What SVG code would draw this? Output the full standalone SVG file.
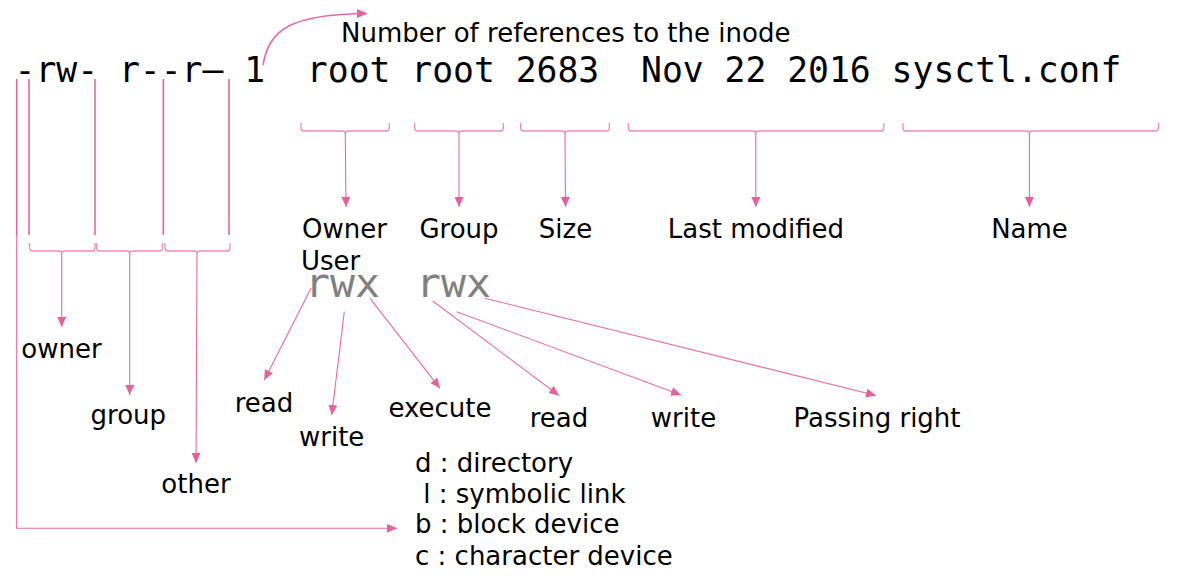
<svg xmlns="http://www.w3.org/2000/svg" width="1189" height="576" viewBox="0 0 1189 576">
<style>
.lbl{font-family:"DejaVu Sans",sans-serif;font-size:26px;fill:#000}
.mono{font-family:"DejaVu Sans Mono",monospace;fill:#000}
.rwx{font-family:"DejaVu Sans Mono",monospace;font-size:41.5px;fill:#808080}
.tick{stroke:#e8649c;stroke-width:1.6;fill:none}
.brace{stroke:#f08cb6;stroke-width:1.3;fill:none}
.con{stroke:#ea6aa2;stroke-width:1.1;fill:none;marker-end:url(#ah)}
.mid{text-anchor:middle}
</style>
<defs>
<marker id="ah" markerUnits="userSpaceOnUse" markerWidth="11" markerHeight="9" refX="10" refY="4.5" orient="auto">
<path d="M0,0 L10,4.5 L0,9 Z" fill="#e8609a"/>
</marker>
</defs>
<rect width="1189" height="576" fill="#fff"/>

<g id="listing">
<text class="mono" x="14.5" y="82" font-size="34.7" xml:space="preserve">-rw- r--r– 1  root root 2683  Nov 22 2016 sysctl.conf</text>
</g>

<g id="ticks">
<line class="tick" x1="16.7" y1="79" x2="16.7" y2="235"/>
<line class="tick" x1="29" y1="79" x2="29" y2="235"/>
<line class="tick" x1="95" y1="79" x2="95" y2="235"/>
<line class="tick" x1="163.3" y1="79" x2="163.3" y2="235"/>
<line class="tick" x1="229" y1="79" x2="229" y2="235"/>
</g>

<g id="braces">
<path class="brace" d="M29.5,243 V248 Q29.5,251 32.5,251 H58.7 Q61.7,251 61.7,254 Q61.7,251 64.7,251 H92 Q95,251 95,248 V243"/>
<path class="brace" d="M96.7,243 V248 Q96.7,251 99.7,251 H126.7 Q129.7,251 129.7,254 Q129.7,251 132.7,251 H159.3 Q162.3,251 162.3,248 V243"/>
<path class="brace" d="M165,243 V248 Q165,251 168,251 H194 Q197,251 197,254 Q197,251 200,251 H227 Q230,251 230,248 V243"/>
<path class="brace" d="M301,123 V128 Q301,131 304,131 H342.3 Q345.3,131 345.3,134 Q345.3,131 348.3,131 H386.3 Q389.3,131 389.3,128 V123"/>
<path class="brace" d="M414.7,123 V128 Q414.7,131 417.7,131 H456 Q459,131 459,134 Q459,131 462,131 H500.3 Q503.3,131 503.3,128 V123"/>
<path class="brace" d="M520.7,123 V128 Q520.7,131 523.7,131 H562 Q565,131 565,134 Q565,131 568,131 H606.3 Q609.3,131 609.3,128 V123"/>
<path class="brace" d="M628.3,123 V128 Q628.3,131 631.3,131 H752.8 Q755.8,131 755.8,134 Q755.8,131 758.8,131 H880.8 Q883.8,131 883.8,128 V123"/>
<path class="brace" d="M903,123 V128 Q903,131 906,131 H1026.4 Q1029.4,131 1029.4,134 Q1029.4,131 1032.4,131 H1155.5 Q1158.5,131 1158.5,128 V123"/>
</g>

<g id="connectors">
<path class="con" d="M263,65 C269,30 290,14 367,13.5" style="stroke-width:1.6"/>
<path class="con" d="M61.7,254 V327"/>
<path class="con" d="M129.7,254 V395"/>
<path class="con" d="M197,254 L196,463"/>
<path class="con" d="M345.3,134 L346,207"/>
<path class="con" d="M459,134 V207"/>
<path class="con" d="M565,134 L565.5,207"/>
<path class="con" d="M755.8,134 V207"/>
<path class="con" d="M1029.4,134 V207"/>
<path class="con" d="M311,288.3 L264.3,380"/>
<path class="con" d="M344.3,311.7 L331.7,415"/>
<path class="con" d="M370,298.3 L440,388.3"/>
<path class="con" d="M432.7,301 L559,395.5"/>
<path class="con" d="M456.7,311.7 L681,395"/>
<path class="con" d="M485,298.3 L876,395.5"/>
<path class="con" d="M16.7,235 V528.3 H397"/>
</g>

<g id="inode-label"><text class="lbl" x="341" y="41.5">Number of references to the inode</text></g>
<g id="owner-user"><text class="lbl" x="302" y="238">Owner</text><text class="lbl" x="301" y="270">User</text></g>
<g id="group-label"><text class="lbl mid" x="459" y="238">Group</text></g>
<g id="size-label"><text class="lbl mid" x="565.5" y="238">Size</text></g>
<g id="modified-label"><text class="lbl mid" x="756" y="238">Last modified</text></g>
<g id="name-label"><text class="lbl mid" x="1029.5" y="238">Name</text></g>

<g id="rwx-user"><text class="rwx" x="305" y="297">rwx</text></g>
<g id="rwx-group"><text class="rwx" x="416" y="297">rwx</text></g>

<g id="owner-bits"><text class="lbl mid" x="61.5" y="358">owner</text></g>
<g id="group-bits"><text class="lbl mid" x="128.3" y="424">group</text></g>
<g id="other-bits"><text class="lbl mid" x="196" y="493">other</text></g>

<g id="user-read"><text class="lbl mid" x="264" y="411.7">read</text></g>
<g id="user-write"><text class="lbl mid" x="331.7" y="446">write</text></g>
<g id="user-execute"><text class="lbl mid" x="440" y="416.7">execute</text></g>
<g id="group-read"><text class="lbl mid" x="559" y="426.7">read</text></g>
<g id="group-write"><text class="lbl mid" x="683.5" y="426.7">write</text></g>
<g id="group-pass"><text class="lbl mid" x="877" y="426.7">Passing right</text></g>

<g id="type-legend">
<text class="lbl" x="415" y="471.5">d : directory</text>
<text class="lbl" x="415" y="502.5" xml:space="preserve"> l : symbolic link</text>
<text class="lbl" x="415" y="533.3">b : block device</text>
<text class="lbl" x="415" y="565">c : character device</text>
</g>
</svg>
